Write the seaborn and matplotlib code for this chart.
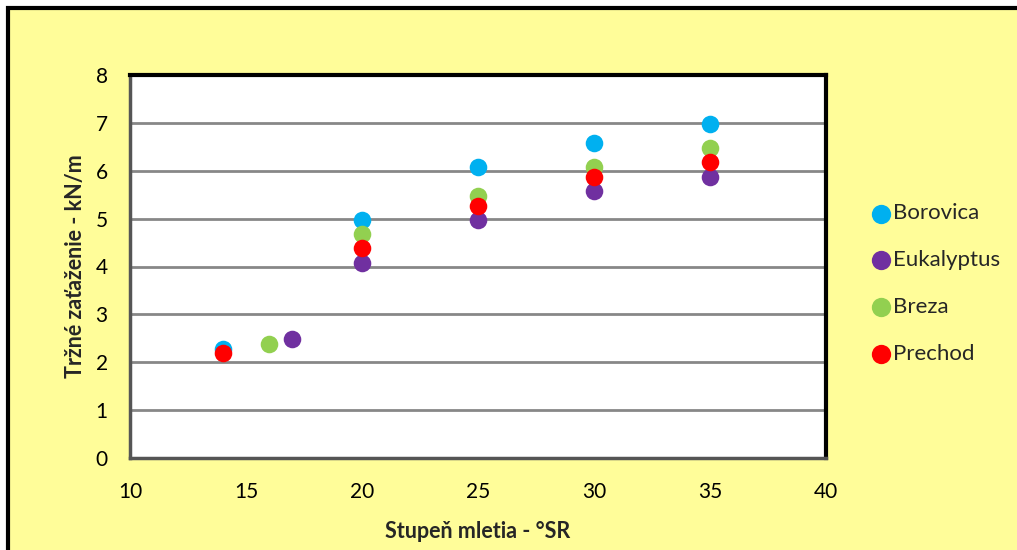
import matplotlib
matplotlib.use("Agg")
import matplotlib.pyplot as plt
import matplotlib.patches as mpatches
import seaborn as sns
import pandas as pd

series = ["Borovica", "Eukalyptus", "Breza", "Prechod"]
borovica_x = [14, 20, 25, 30, 35]
borovica_y = [2.28, 4.97, 6.07, 6.57, 6.97]
eukalyptus_x = [17, 20, 25, 30, 35]
eukalyptus_y = [2.48, 4.07, 4.98, 5.57, 5.87]
breza_x = [16, 20, 25, 30, 35]
breza_y = [2.38, 4.67, 5.47, 6.07, 6.47]
prechod_x = [14, 20, 25, 30, 35]
prechod_y = [2.19, 4.38, 5.27, 5.87, 6.18]
colors = {"Borovica": "#00B0F0", "Eukalyptus": "#7030A0", "Breza": "#92D050", "Prechod": "#FF0000"}
x_ticks = [10, 15, 20, 25, 30, 35, 40]
y_ticks = [0, 1, 2, 3, 4, 5, 6, 7, 8]
x_label = "Stupeň mletia - °SR"
y_label = "Tržné zaťaženie - kN/m"

rows = []
for name, xs, ys in [("Borovica", borovica_x, borovica_y),
                     ("Eukalyptus", eukalyptus_x, eukalyptus_y),
                     ("Breza", breza_x, breza_y),
                     ("Prechod", prechod_x, prechod_y)]:
    for x, y in zip(xs, ys):
        rows.append({"x": x, "y": y, "series": name})
df = pd.DataFrame(rows)

sns.set_theme(style="white")
plt.rcParams['font.family'] = ['Lato', 'DejaVu Sans']

fig = plt.figure(figsize=(10.17, 5.5), dpi=100)
fig.patch.set_facecolor("white")
bg = mpatches.Rectangle((8 / 1017, -0.05), 1.2, 0.05 + 542 / 550, transform=fig.transFigure,
                        facecolor="#FFFD99", edgecolor="black", linewidth=3, zorder=-10)
fig.patches.append(bg)

ax = fig.add_axes([130 / 1017, 92 / 550, 696 / 1017, 383 / 550])
ax.set_zorder(5)
ax.set_facecolor("white")
for name in series:
    sub = df[df["series"] == name]
    sns.scatterplot(data=sub, x="x", y="y", color=colors[name], s=160, linewidth=0,
                    ax=ax, label=name, zorder=3)

ax.set_xlim(10, 40)
ax.set_ylim(0, 8)
ax.set_xticks(x_ticks)
ax.set_yticks(y_ticks)
ax.yaxis.grid(True, color="#878787", linewidth=2)
ax.xaxis.grid(False)
ax.set_axisbelow(True)
ax.tick_params(axis="both", length=0, labelsize=15, colors="black")
ax.tick_params(axis="x", pad=17)
ax.tick_params(axis="y", pad=16)
ax.set_xlabel(x_label, fontsize=15.5, fontweight="bold", labelpad=14)
ax.set_ylabel(y_label, fontsize=15.5, fontweight="bold", labelpad=7)
for side in ["top", "right"]:
    ax.spines[side].set_color("black")
    ax.spines[side].set_linewidth(3)
for side in ["left", "bottom"]:
    ax.spines[side].set_color("#555555")
    ax.spines[side].set_linewidth(2.5)

leg = ax.legend(loc="center left", bbox_to_anchor=(1.048, 0.455), frameon=False,
                fontsize=16, handletextpad=0.0, labelspacing=1.21, markerscale=1.1,
                handlelength=1.1, borderaxespad=0)

fig.savefig("out.png", dpi=100, facecolor=fig.get_facecolor())
